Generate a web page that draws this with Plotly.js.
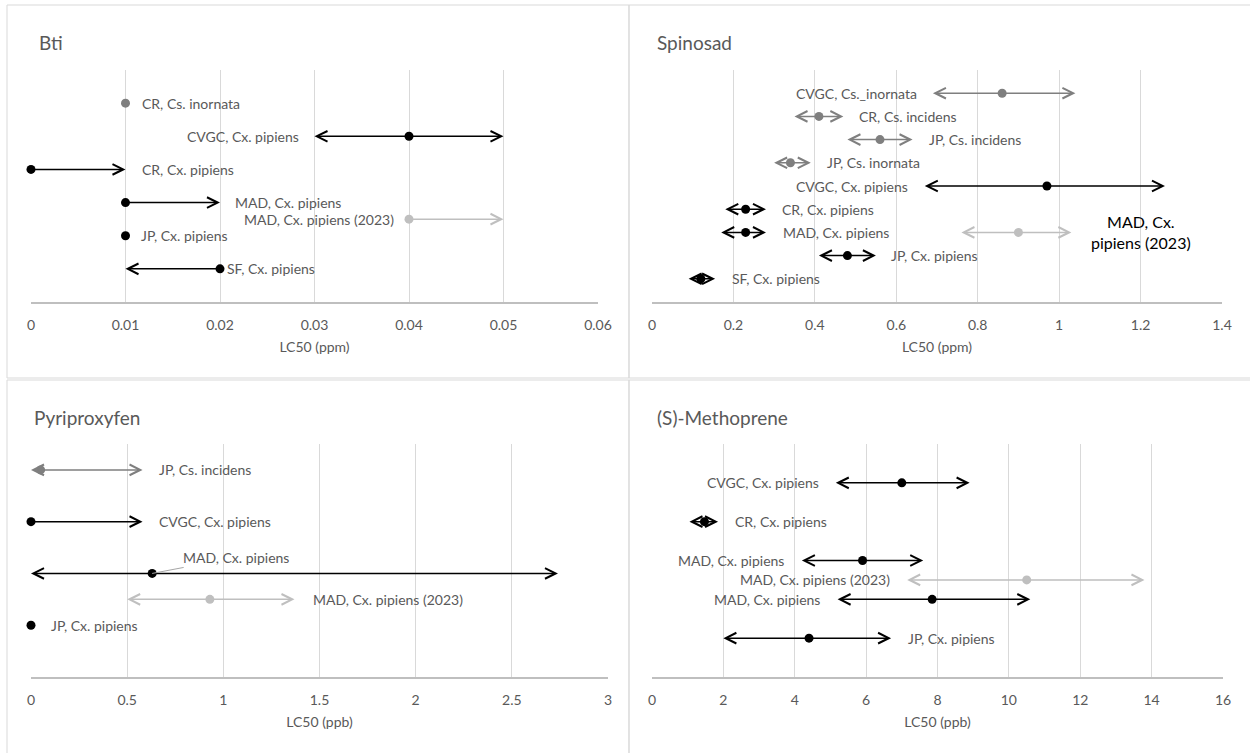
<!DOCTYPE html>
<html>
<head>
<meta charset="utf-8">
<script src="https://cdn.plot.ly/plotly-3.0.1.min.js"></script>
<style>html,body{margin:0;padding:0;background:#fff;}#chart{width:1250px;height:753px;}</style>
</head>
<body>
<div id="chart"></div>
<script>
// ---------------- DATA ----------------
// Bti (ppm)
const btiLabels = ['CR, Cs. inornata','CVGC, Cx. pipiens','CR, Cx. pipiens','MAD, Cx. pipiens','MAD, Cx. pipiens (2023)','JP, Cx. pipiens','SF, Cx. pipiens'];
const btiRow    = [6, 5, 4, 3, 2.5, 2, 1];
const btiLC50   = [0.01, 0.04, 0, 0.01, 0.04, 0.01, 0.02];
const btiLower  = [null, 0.03, null, null, null, null, 0.01];
const btiUpper  = [null, 0.05, 0.01, 0.02, 0.05, null, null];
const btiGroup  = ['Cs','Cx','Cx','Cx','2023','Cx','Cx'];
const btiTicks  = [0, 0.01, 0.02, 0.03, 0.04, 0.05, 0.06];

// Spinosad (ppm)
const spinLabels = ['CVGC, Cs._inornata','CR, Cs. incidens','JP, Cs. incidens','JP, Cs. inornata','CVGC, Cx. pipiens','CR, Cx. pipiens','MAD, Cx. pipiens','MAD, Cx.<br>pipiens (2023)','JP, Cx. pipiens','SF, Cx. pipiens'];
const spinRow    = [9, 8, 7, 6, 5, 4, 3, 3, 2, 1];
const spinLC50   = [0.86, 0.41, 0.56, 0.34, 0.97, 0.23, 0.23, 0.90, 0.48, 0.12];
const spinLower  = [0.69, 0.35, 0.48, 0.30, 0.67, 0.18, 0.17, 0.76, 0.41, 0.09];
const spinUpper  = [1.04, 0.47, 0.64, 0.39, 1.26, 0.28, 0.28, 1.03, 0.55, 0.155];
const spinGroup  = ['Cs','Cs','Cs','Cs','Cx','Cx','Cx','2023','Cx','Cx'];
const spinTicks  = [0, 0.2, 0.4, 0.6, 0.8, 1, 1.2, 1.4];

// Pyriproxyfen (ppb)
const pyrLabels = ['JP, Cs. incidens','CVGC, Cx. pipiens','MAD, Cx. pipiens','MAD, Cx. pipiens (2023)','JP, Cx. pipiens'];
const pyrRow    = [4, 3, 2, 1.5, 1];
const pyrLC50   = [0.05, 0, 0.63, 0.93, 0];
const pyrLower  = [0, null, 0, 0.5, null];
const pyrUpper  = [0.58, 0.58, 2.74, 1.37, null];
const pyrGroup  = ['Cs','Cx','Cx','2023','Cx'];
const pyrTicks  = [0, 0.5, 1, 1.5, 2, 2.5, 3];

// (S)-Methoprene (ppb)
const metLabels = ['CVGC, Cx. pipiens','CR, Cx. pipiens','MAD, Cx. pipiens','MAD, Cx. pipiens (2023)','MAD, Cx. pipiens','JP, Cx. pipiens'];
const metRow    = [5, 4, 3, 2.5, 2, 1];
const metLC50   = [7.0, 1.47, 5.9, 10.5, 7.85, 4.4];
const metLower  = [5.15, 1.05, 4.2, 7.15, 5.2, 2.0];
const metUpper  = [8.9, 1.85, 7.6, 13.8, 10.6, 6.7];
const metGroup  = ['Cx','Cx','Cx','2023','Cx','Cx'];
const metTicks  = [0, 2, 4, 6, 8, 10, 12, 14, 16];

// ---------------- STYLE / LAYOUT ----------------
const W = 1250, H = 753;
const fx = v => v / W;
const fy = v => 1 - v / H;
const colors = {Cx:'#000000', Cs:'#7f7f7f', '2023':'#bfbfbf'};
const textGray = '#595959';
const FONT = 'Lato, "Liberation Sans", Arial, sans-serif';
const LABEL_SIZE = 14;

const panels = [
  {name:'Bti', xa:'x', ya:'y', xdom:[31,598], ydom:[70,302], xrange:[0,0.06], yrange:[0,7], ticks:btiTicks, axTitle:'LC50 (ppm)', titlePos:[37,43],
   labels:btiLabels, row:btiRow, lc50:btiLC50, lower:btiLower, upper:btiUpper, group:btiGroup,
   side:['r','l','r','r','l','r','r'], gap:[14,14,14,13,13,13,5]},
  {name:'Spinosad', xa:'x2', ya:'y2', xdom:[652,1222], ydom:[70,302], xrange:[0,1.4], yrange:[0,10], ticks:spinTicks, axTitle:'LC50 (ppm)', titlePos:[655,43],
   labels:spinLabels, row:spinRow, lc50:spinLC50, lower:spinLower, upper:spinUpper, group:spinGroup,
   side:['l','r','r','r','l','r','r','big','r','r'], gap:[14,14,14,14,15,14,15,18,13,15]},
  {name:'Pyriproxyfen', xa:'x3', ya:'y3', xdom:[31,608], ydom:[444,677], xrange:[0,3], yrange:[0,4.5], ticks:pyrTicks, axTitle:'LC50 (ppb)', titlePos:[32,418],
   labels:pyrLabels, row:pyrRow, lc50:pyrLC50, lower:pyrLower, upper:pyrUpper, group:pyrGroup,
   side:['r','r','callout','r','r'], gap:[14,14,0,16,18]},
  {name:'(S)-Methoprene', xa:'x4', ya:'y4', xdom:[652,1223], ydom:[444,677], xrange:[0,16], yrange:[0,6], ticks:metTicks, axTitle:'LC50 (ppb)', titlePos:[655,418],
   labels:metLabels, row:metRow, lc50:metLC50, lower:metLower, upper:metUpper, group:metGroup,
   side:['l','r','l','l','l','r'], gap:[15,15,16,15,16,15]}
];

const traces = [];
const annotations = [];
const shapes = [];
const layout = {
  width: W, height: H,
  margin: {l:0, r:0, t:0, b:0},
  paper_bgcolor: '#ffffff', plot_bgcolor: '#ffffff',
  showlegend: false, hovermode: false,
  font: {family: FONT, color: textGray, size: 13}
};

panels.forEach(p => {
  const xk = p.xa === 'x' ? 'xaxis' : 'xaxis' + p.xa.slice(1);
  const yk = p.ya === 'y' ? 'yaxis' : 'yaxis' + p.ya.slice(1);
  layout[xk] = {
    domain: [fx(p.xdom[0]), fx(p.xdom[1])], range: p.xrange, anchor: p.ya,
    tickmode: 'array', tickvals: p.ticks, ticks: '', ticklabelstandoff: 10,
    showgrid: true, gridcolor: '#d9d9d9', gridwidth: 1, zeroline: false,
    showline: true, linecolor: '#bfbfbf', linewidth: 1.5,
    tickfont: {family: FONT, size: 14, color: textGray},
    title: {text: p.axTitle, font: {family: FONT, size: 14, color: textGray}, standoff: 10},
    fixedrange: true
  };
  layout[yk] = {
    domain: [fy(p.ydom[1]), fy(p.ydom[0])], range: p.yrange, anchor: p.xa,
    visible: false, fixedrange: true
  };

  // panel title
  annotations.push({xref:'paper', yref:'paper', x:fx(p.titlePos[0]), y:fy(p.titlePos[1]), xanchor:'left', yanchor:'middle',
    text:p.name, showarrow:false, font:{family:FONT, size:19, color:textGray}});

  // points by colour group
  ['Cs','Cx','2023'].forEach(g => {
    const xs = [], ys = [];
    p.lc50.forEach((v, i) => { if (p.group[i] === g) { xs.push(v); ys.push(p.row[i]); } });
    if (xs.length) traces.push({type:'scatter', mode:'markers', x:xs, y:ys, xaxis:p.xa, yaxis:p.ya,
      marker:{color:colors[g], size:9}, cliponaxis:false, hoverinfo:'skip'});
  });

  // confidence arrows
  p.lc50.forEach((v, i) => {
    [p.lower[i], p.upper[i]].forEach(b => {
      if (b === null || b === undefined) return;
      annotations.push({xref:p.xa, yref:p.ya, axref:p.xa, ayref:p.ya, x:b, y:p.row[i], ax:v, ay:p.row[i],
        text:'', showarrow:true, arrowhead:5, arrowsize:1.4, arrowwidth:1.5, arrowcolor:colors[p.group[i]]});
    });
  });

  // labels
  p.labels.forEach((t, i) => {
    const s = p.side[i];
    if (s === 'callout') {
      annotations.push({xref:p.xa, yref:p.ya, x:p.lc50[i], y:p.row[i], text:t, showarrow:true,
        arrowhead:0, arrowwidth:1, arrowcolor:'#a6a6a6', ax:84, ay:-16,
        font:{family:FONT, size:LABEL_SIZE, color:textGray}});
      return;
    }
    const right = (s === 'r' || s === 'big');
    const anchor = right ? (p.upper[i] ?? p.lc50[i]) : (p.lower[i] ?? p.lc50[i]);
    const a = {xref:p.xa, yref:p.ya, x:anchor, y:p.row[i], text:t, showarrow:false,
      xanchor: right ? 'left' : 'right', yanchor:'middle', xshift: right ? p.gap[i] : -p.gap[i],
      font:{family:FONT, size:LABEL_SIZE, color:textGray}};
    if (s === 'big') { a.font = {family:FONT, size:16, color:'#000000'}; a.align = 'center'; }
    annotations.push(a);
  });
});

// panel borders
const borderLine = {color:'#d9d9d9', width:1};
[[7,5,629,378],[629,5,1252,378],[7,380,629,756],[629,380,1252,756]].forEach(r => {
  shapes.push({type:'rect', xref:'paper', yref:'paper', x0:fx(r[0]), x1:fx(r[2]), y0:fy(r[3]), y1:fy(r[1]), line:borderLine, layer:'below'});
});

layout.annotations = annotations;
layout.shapes = shapes;

Plotly.newPlot('chart', traces, layout, {displayModeBar:false, staticPlot:true});
</script>
</body>
</html>
